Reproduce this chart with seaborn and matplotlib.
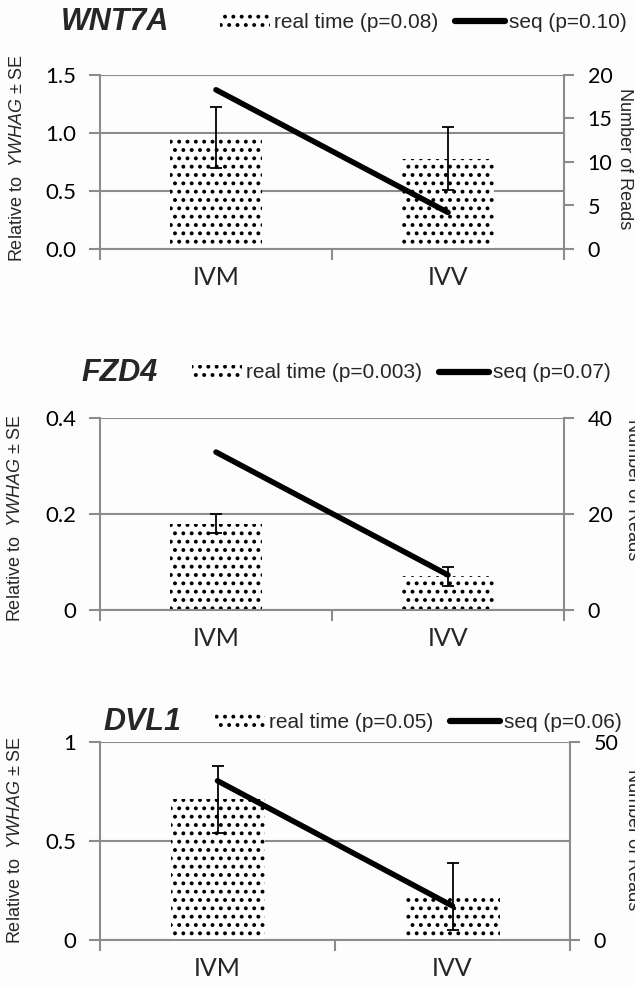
import matplotlib
matplotlib.use("Agg")
import matplotlib.pyplot as plt
from matplotlib.patches import Patch
from matplotlib.lines import Line2D
from matplotlib.ticker import MultipleLocator, FixedLocator, FuncFormatter
import numpy as np
import seaborn as sns

# data
groups = ["IVM", "IVV"]
genes = ["WNT7A", "FZD4", "DVL1"]
rt_means = [[0.96, 0.78], [0.18, 0.07], [0.71, 0.22]]
rt_se = [[0.26, 0.27], [0.02, 0.02], [0.17, 0.17]]
seq_reads = [[18.3, 4.2], [32.9, 7.3], [40.2, 8.6]]
rt_p = ["0.08", "0.003", "0.05"]
seq_p = ["0.10", "0.07", "0.06"]
left_max = [1.5, 0.4, 1.0]
left_step = [0.5, 0.2, 0.5]
left_fmt = ["{:.1f}", "{:g}", "{:g}"]
right_max = [20, 40, 50]
right_step = [5, 20, 50]

sns.set_theme(style="white")
plt.rcParams["font.family"] = ["Liberation Sans", "DejaVu Sans"]
plt.rcParams["mathtext.fontset"] = "custom"
plt.rcParams["mathtext.rm"] = "Liberation Sans"
plt.rcParams["mathtext.it"] = "Liberation Sans:italic"
plt.rcParams["hatch.linewidth"] = 1.6

W, H = 635, 986
grid_c = "#8c8c8c"

# panel boxes in pixels: left, right, top, bottom
boxes = [(100, 564, 75, 249), (100, 564, 418, 610), (100, 570, 742, 940)]
title_pos = [(61, 22), (81, 373), (103, 722)]
legend_pos = [(220, 22), (192, 373), (215, 722)]
ylab_pos = [(18, 158), (16, 518), (16, 840)]
rlab_pos = [(625, 159), (632, 490), (632, 840)]

fig = plt.figure(figsize=(W / 100, H / 100), dpi=100)
fig.patch.set_facecolor("#fdfdfd")

for i, gene in enumerate(genes):
    l, r, t, b = boxes[i]
    ax = fig.add_axes([l / W, 1 - b / H, (r - l) / W, (b - t) / H])
    ax.set_facecolor("none")
    # real time bars + SE
    sns.barplot(x=groups, y=rt_means[i], ax=ax, color="white", width=0.4,
                errorbar=None, hatch="..", edgecolor="black", linewidth=0,
                saturation=1)
    ax.errorbar(np.arange(len(groups)), rt_means[i], yerr=rt_se[i], fmt="none",
                ecolor="black", elinewidth=1.3, capsize=4, capthick=1.3, zorder=3)
    ax.set_xlim(-0.5, 1.5)
    ax.set_ylim(0, left_max[i])
    ax.yaxis.set_major_locator(MultipleLocator(left_step[i]))
    ax.yaxis.set_major_formatter(FuncFormatter(lambda v, p, f=left_fmt[i]: f.format(v)))
    ax.set_axisbelow(True)
    ax.yaxis.grid(True, color=grid_c, linewidth=1.5)
    ax.xaxis.grid(False)
    for s in ["top", "right"]:
        ax.spines[s].set_visible(False)
    for s in ["left", "bottom"]:
        ax.spines[s].set_color(grid_c)
        ax.spines[s].set_linewidth(1.5)
    ax.tick_params(axis="y", left=True, length=8, width=1.5, color=grid_c,
                   labelsize=16, pad=9, labelcolor="black")
    # category separators as minor ticks
    ax.xaxis.set_minor_locator(FixedLocator([-0.5, 0.5, 1.5]))
    ax.tick_params(axis="x", which="major", length=0, labelsize=18, pad=12)
    ax.tick_params(axis="x", which="minor", bottom=True, length=8, width=1.5,
                   color=grid_c)
    for lab in ax.get_xticklabels() + ax.get_yticklabels():
        lab.set_fontfamily("Lato")
    ax.set_xlabel("")
    ax.set_ylabel("")

    # seq reads line on the right axis
    ax2 = ax.twinx()
    sns.lineplot(x=np.arange(len(groups)), y=seq_reads[i], ax=ax2, color="black",
                 linewidth=4, solid_capstyle="round")
    ax2.set_xlim(-0.5, 1.5)
    ax2.set_ylim(0, right_max[i])
    ax2.yaxis.set_major_locator(MultipleLocator(right_step[i]))
    ax2.yaxis.set_major_formatter(FuncFormatter(lambda v, p: "{:g}".format(v)))
    for s in ["top", "left", "bottom"]:
        ax2.spines[s].set_visible(False)
    ax2.spines["right"].set_color(grid_c)
    ax2.spines["right"].set_linewidth(1.5)
    ax2.tick_params(axis="y", right=True, length=7, width=1.5, color=grid_c,
                    labelsize=15.5, pad=10, labelcolor="black")
    for lab in ax2.get_yticklabels():
        lab.set_fontfamily("Lato")
    ax2.set_xlabel("")
    ax2.set_ylabel("")

    # titles, legends, axis labels
    tx, ty = title_pos[i]
    fig.text(tx / W, 1 - ty / H, gene, fontsize=22, fontweight="bold",
             fontstyle="italic", ha="left", va="center")
    handles = [Patch(facecolor="white", edgecolor="black", hatch="..", linewidth=0),
               Line2D([], [], color="black", linewidth=4.5)]
    labels = ["real time (p=%s)" % rt_p[i], "seq (p=%s)" % seq_p[i]]
    lx, ly = legend_pos[i]
    fig.legend(handles, labels, loc="center left", bbox_to_anchor=(lx / W, 1 - ly / H),
               ncol=2, frameon=False, borderaxespad=0, borderpad=0, fontsize=15,
               handlelength=2.4, handletextpad=0.2, columnspacing=0.8,
               handleheight=0.6)
    yx, yy = ylab_pos[i]
    fig.text(yx / W, 1 - yy / H, r"Relative to  $\mathit{YWHAG}$ ± SE", fontsize=13,
             rotation=90, ha="center", va="center")
    rx, ry = rlab_pos[i]
    fig.text(rx / W, 1 - ry / H, "Number of Reads", fontsize=13, rotation=270,
             ha="center", va="center")

fig.savefig("out.png", dpi=100, facecolor=fig.get_facecolor())
